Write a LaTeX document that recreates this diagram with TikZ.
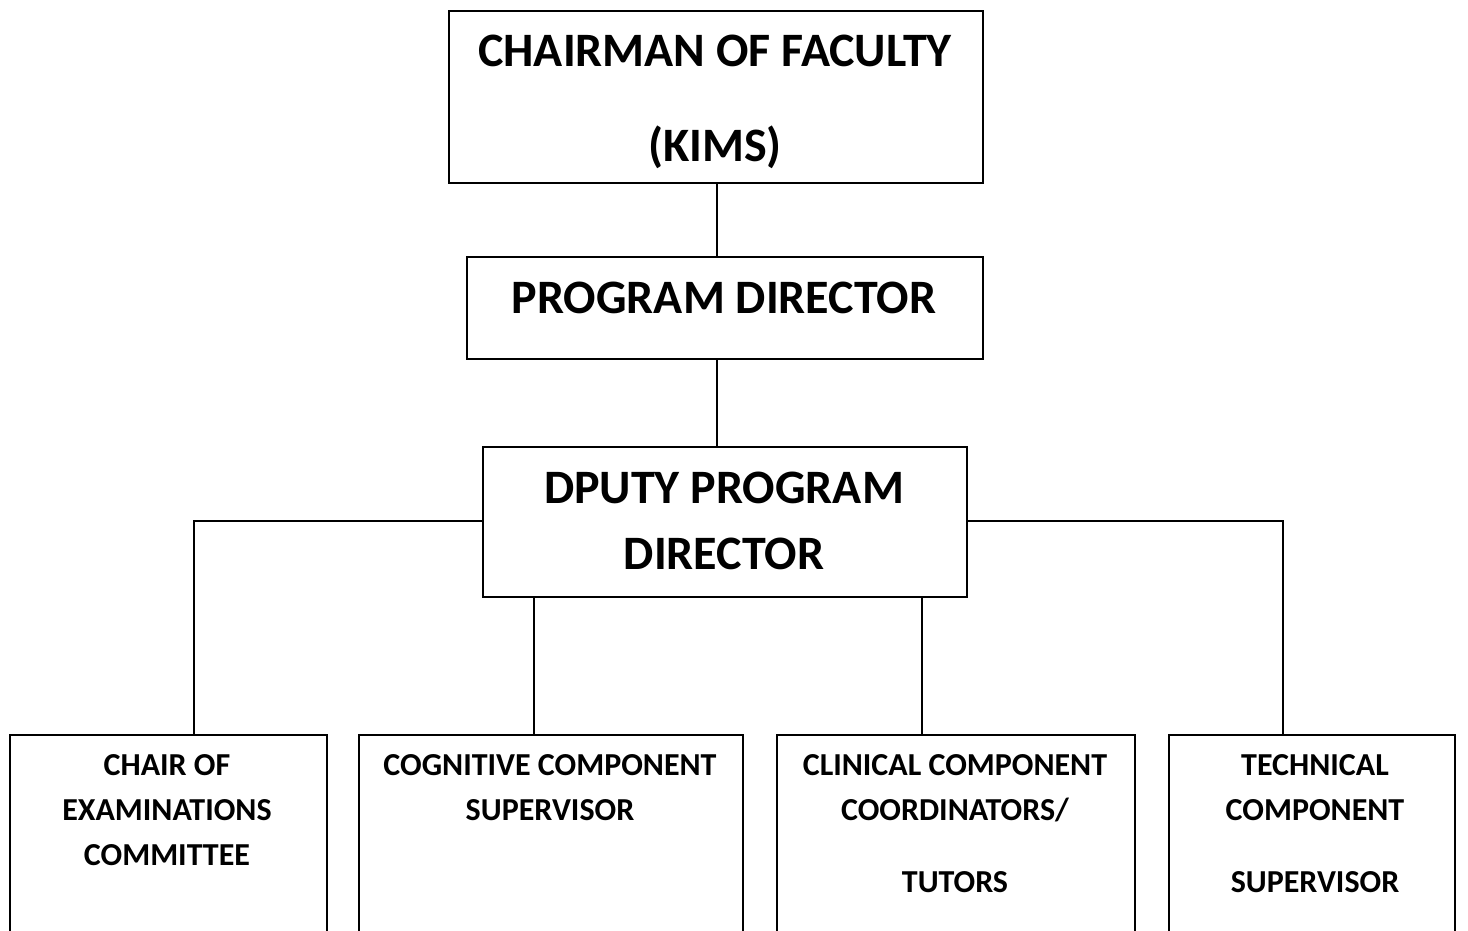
\documentclass[tikz,border=0pt]{standalone}
\usepackage{fontspec}
\setmainfont{Carlito}
\begin{document}
\begin{tikzpicture}[x=1pt,y=-1pt,
  box/.style={draw, line width=2pt, rectangle, inner sep=0pt, anchor=north west},
  link/.style={draw, line width=2pt},
  big/.style={font=\bfseries\fontsize{48}{58}\selectfont, anchor=base, inner sep=0pt},
  small/.style={font=\bfseries\fontsize{32}{38}\selectfont, anchor=base, inner sep=0pt}]
\useasboundingbox (0,0) rectangle (1468,931);
\clip (0,0) rectangle (1468,931);

% boxes
\node[box, minimum width=534pt, minimum height=172pt] (cf) at (448,10) {};
\node[box, minimum width=516pt, minimum height=102pt] (pd) at (466,256) {};
\node[box, minimum width=484pt, minimum height=150pt] (dp) at (482,446) {};
\node[box, minimum width=317pt, minimum height=260pt] (b1) at (9,734) {};
\node[box, minimum width=384pt, minimum height=260pt] (b2) at (358,734) {};
\node[box, minimum width=358pt, minimum height=260pt] (b3) at (776,734) {};
\node[box, minimum width=286pt, minimum height=260pt] (b4) at (1168,734) {};

% labels
\node[big] (cf1) at (715,67) {CHAIRMAN OF FACULTY};
\node[big] (cf2) at (715,162) {(KIMS)};
\node[big] (pd1) at (724,313) {PROGRAM DIRECTOR};
\node[big] (dp1) at (724,503) {DPUTY PROGRAM};
\node[big] (dp2) at (724,569) {DIRECTOR};

\node[small] (b1a) at (167,775) {CHAIR OF};
\node[small] (b1b) at (167,820) {EXAMINATIONS};
\node[small] (b1c) at (167,865) {COMMITTEE};
\node[small] (b2a) at (550,775) {COGNITIVE COMPONENT};
\node[small] (b2b) at (550,820) {SUPERVISOR};
\node[small] (b3a) at (955,775) {CLINICAL COMPONENT};
\node[small] (b3b) at (955,820) {COORDINATORS/};
\node[small] (b3c) at (955,892) {TUTORS};
\node[small] (b4a) at (1315,775) {TECHNICAL};
\node[small] (b4b) at (1315,820) {COMPONENT};
\node[small] (b4c) at (1315,892) {SUPERVISOR};

% connectors
\coordinate (j1) at (194,734);
\coordinate (j4) at (1283,734);
\draw[link] ([xshift=1pt]cf.south) -- ([xshift=1pt]cf.south |- pd.north);
\draw[link] ([xshift=1pt]cf.south |- pd.south) -- ([xshift=1pt]cf.south |- dp.north);
\draw[link] ([yshift=1pt]dp.west) -| (j1);
\draw[link] ([yshift=1pt]dp.east) -| (j4);
\draw[link] ([xshift=52pt]dp.south west) -- ([xshift=52pt]dp.south west |- b2.north);
\draw[link] ([xshift=-46pt]dp.south east) -- ([xshift=-46pt]dp.south east |- b3.north);
\end{tikzpicture}
\end{document}
